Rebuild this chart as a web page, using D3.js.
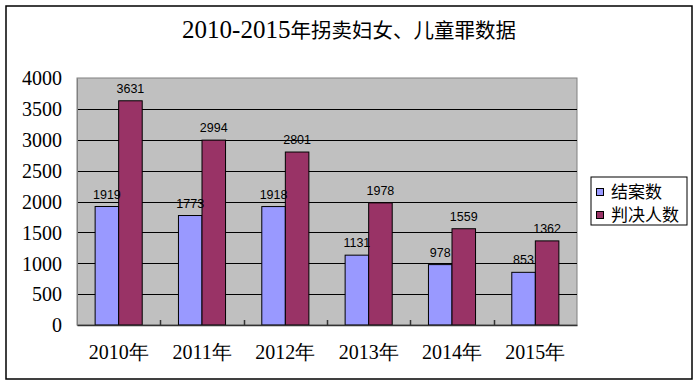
<!DOCTYPE html>
<html><head><meta charset="utf-8">
<script src="https://cdn.jsdelivr.net/npm/d3@7"></script>
<style>
html,body{margin:0;padding:0;background:#fff;}
svg{display:block;}
</style></head>
<body>
<svg id="chart" width="700" height="386"></svg>
<script>
const years = ["2010", "2011", "2012", "2013", "2014", "2015"];
const yearSuffix = "年";
const seriesNames = ["结案数", "判决人数"];
const cases = [1919, 1773, 1918, 1131, 978, 853];
const convicted = [3631, 2994, 2801, 1978, 1559, 1362];
const yTicks = [0, 500, 1000, 1500, 2000, 2500, 3000, 3500, 4000];
const colors = ["#9999FF", "#993366"];
const titleNum = "2010-2015";
const titleCJK = "年拐卖妇女、儿童罪数据";

const svg = d3.select("#chart");
const plot = {left: 77, right: 577, top: 78, bottom: 325};
const serif = "'Liberation Serif','Times New Roman',serif";
const cjk = "'Noto Sans CJK SC','Noto Sans CJK JP',sans-serif";

// outer border
svg.append("rect").attr("x", 6).attr("y", 6).attr("width", 686).attr("height", 373)
  .attr("fill", "#fff").attr("stroke", "#000").attr("stroke-width", 1.5);

// title
const title = svg.append("text").attr("x", 349).attr("y", 38).attr("text-anchor", "middle").attr("fill", "#000");
title.append("tspan").style("font-family", serif).attr("font-size", 25).text(titleNum);
title.append("tspan").style("font-family", cjk).attr("font-size", 20.5).text(titleCJK);

const x = d3.scaleBand().domain(years).range([plot.left, plot.right]).paddingInner(0).paddingOuter(0);
const xs = d3.scaleBand().domain(seriesNames).range([0, x.bandwidth()]).paddingInner(0).paddingOuter(0.77);
const y = d3.scaleLinear().domain([0, 4000]).range([plot.bottom, plot.top]);

// plot background
svg.append("rect").attr("x", plot.left).attr("y", plot.top)
  .attr("width", plot.right - plot.left).attr("height", plot.bottom - plot.top)
  .attr("fill", "#C0C0C0").attr("stroke", "#808080").attr("stroke-width", 1);

// gridlines
svg.append("g").selectAll("line").data(yTicks.filter(d => d > 0 && d < 4000)).join("line")
  .attr("x1", plot.left).attr("x2", plot.right)
  .attr("y1", d => Math.round(y(d)) + 0.5).attr("y2", d => Math.round(y(d)) + 0.5)
  .attr("stroke", "#000").attr("stroke-width", 1);

// y axis labels
const yAxis = d3.axisLeft(y).tickValues(yTicks).tickSize(0).tickPadding(15).tickFormat(d3.format("d"));
const gy = svg.append("g").attr("transform", `translate(${plot.left},0)`).call(yAxis);
gy.attr("font-family", null).attr("font-size", null);
gy.select(".domain").attr("stroke", "#808080");
gy.selectAll("text").style("font-family", serif).style("font-size", "20px").attr("fill", "#000").attr("dy", "0.34em");

// bars
const data = years.map((yr, i) => ({year: yr, vals: [cases[i], convicted[i]]}));
const groups = svg.append("g").selectAll("g").data(data).join("g")
  .attr("transform", d => `translate(${x(d.year)},0)`);
groups.selectAll("rect").data(d => d.vals.map((v, j) => ({s: seriesNames[j], v, j}))).join("rect")
  .attr("x", d => xs(d.s)).attr("width", xs.bandwidth())
  .attr("y", d => y(d.v)).attr("height", d => y(0) - y(d.v))
  .attr("fill", d => colors[d.j]).attr("stroke", "#000").attr("stroke-width", 1);
groups.selectAll("text").data(d => d.vals.map((v, j) => ({s: seriesNames[j], v, j}))).join("text")
  .attr("x", d => xs(d.s) + xs.bandwidth() / 2).attr("y", d => y(d.v) - 8)
  .attr("text-anchor", "middle").style("font-family", "'Liberation Sans',Arial,sans-serif")
  .style("font-size", "12.5px").attr("fill", "#000").text(d => d.v);

// x axis
const xAxis = d3.axisBottom(x).tickSize(0).tickPadding(20).tickFormat(d => d + yearSuffix);
const gx = svg.append("g").attr("transform", `translate(0,${plot.bottom})`).call(xAxis);
gx.attr("font-family", null).attr("font-size", null);
gx.select(".domain").attr("stroke", "#333").attr("stroke-width", 1.5);
gx.selectAll("text").style("font-family", serif).style("font-size", "20px").attr("fill", "#000");
// category tick marks (inside)
svg.append("g").selectAll("line").data(years.slice(1)).join("line")
  .attr("x1", d => Math.round(x(d)) + 0.5).attr("x2", d => Math.round(x(d)) + 0.5)
  .attr("y1", plot.bottom).attr("y2", plot.bottom - 5).attr("stroke", "#333").attr("stroke-width", 1.5);

// legend
const lg = svg.append("g").attr("transform", "translate(591,177)");
lg.append("rect").attr("x", 0).attr("y", 0).attr("width", 96).attr("height", 48)
  .attr("fill", "#fff").attr("stroke", "#000").attr("stroke-width", 1);
seriesNames.forEach((n, i) => {
  const yy = 15 + i * 23;
  lg.append("rect").attr("x", 5.5).attr("y", yy - 3.5).attr("width", 7).attr("height", 7)
    .attr("fill", colors[i]).attr("stroke", "#000").attr("stroke-width", 1);
  lg.append("text").attr("x", 20).attr("y", yy).attr("dy", "0.35em")
    .style("font-family", cjk).style("font-size", "17px").attr("fill", "#000").text(n);
});
</script>
</body></html>
